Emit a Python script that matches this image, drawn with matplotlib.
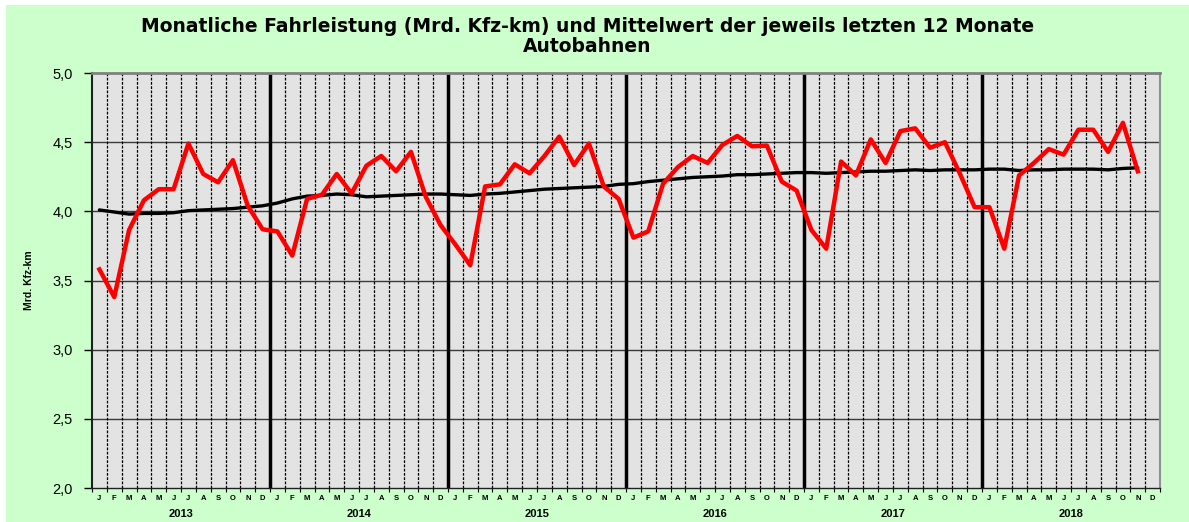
import numpy as np
import matplotlib
matplotlib.use("Agg")
import matplotlib.pyplot as plt
from matplotlib.patches import Rectangle
from matplotlib.transforms import blended_transform_factory

plt.rcParams['font.family'] = ['Liberation Sans', 'DejaVu Sans']

months = ["J", "F", "M", "A", "M", "J", "J", "A", "S", "O", "N", "D"]
years = ["2013", "2014", "2015", "2016", "2017", "2018"]

# Monatliche Fahrleistung (Mrd. Kfz-km), Jan 2013 .. Dez 2018
fahrleistung = [
    3.58, 3.38, 3.865, 4.08, 4.16, 4.16, 4.49, 4.27, 4.21, 4.37, 4.04, 3.87,
    3.855, 3.68, 4.09, 4.12, 4.27, 4.13, 4.33, 4.40, 4.29, 4.43, 4.105, 3.90,
    3.76, 3.61, 4.18, 4.195, 4.34, 4.275, 4.40, 4.54, 4.335, 4.49, 4.18, 4.09,
    3.81, 3.855, 4.20, 4.32, 4.40, 4.35, 4.48, 4.545, 4.47, 4.475, 4.215, 4.15,
    3.865, 3.73, 4.36, 4.26, 4.52, 4.35, 4.58, 4.60, 4.46, 4.50, 4.275, 4.03,
    4.03, 3.73, 4.26, 4.35, 4.45, 4.41, 4.59, 4.59, 4.43, 4.64, 4.29, np.nan,
]

# Mittelwert der jeweils letzten 12 Monate
mittelwert = [
    4.01, 3.995, 3.98, 3.985, 3.985, 3.99, 4.005, 4.01, 4.015, 4.02, 4.03, 4.04,
    4.06, 4.09, 4.11, 4.115, 4.125, 4.12, 4.105, 4.11, 4.115, 4.12, 4.125, 4.125,
    4.12, 4.115, 4.125, 4.13, 4.14, 4.15, 4.16, 4.165, 4.17, 4.175, 4.18, 4.195,
    4.20, 4.215, 4.225, 4.235, 4.245, 4.25, 4.255, 4.265, 4.265, 4.27, 4.275, 4.28,
    4.28, 4.275, 4.28, 4.285, 4.29, 4.29, 4.295, 4.30, 4.295, 4.30, 4.30, 4.30,
    4.305, 4.305, 4.295, 4.30, 4.30, 4.305, 4.305, 4.305, 4.30, 4.31, 4.315, np.nan,
]

W, H = 1189, 522
fig = plt.figure(figsize=(W / 100, H / 100), dpi=100)
fig.patch.set_facecolor("white")
fig.patches.append(Rectangle((6 / W, 0), 1 - 6 / W, 1 - 5 / H,
                             transform=fig.transFigure, facecolor="#ccffcc",
                             edgecolor="none", zorder=-10))

ax = fig.add_axes([92 / W, (H - 488) / H, (1160 - 92) / W, (488 - 73) / H])
ax.set_facecolor("#e3e3e3")

n = len(years) * 12
x = np.arange(n) + 0.5

# grid
for yv in [2.5, 3.0, 3.5, 4.0, 4.5]:
    ax.axhline(yv, color="#3a3a3a", lw=1.0, zorder=1)
for b in range(1, n):
    if b % 12 == 0:
        ax.axvline(b, color="black", lw=2.5, zorder=2)
    else:
        ax.axvline(b, color="black", lw=0.9, ls=(0, (2.2, 1.2)), zorder=1)

ax.plot(x, mittelwert, color="black", lw=2.4, zorder=3, solid_capstyle="round")
ax.plot(x, fahrleistung, color="#ff0000", lw=3.2, zorder=4)

ax.set_xlim(0, n)
ax.set_ylim(2.0, 5.0)

yt = np.arange(2.0, 5.01, 0.5)
ax.set_yticks(yt)
ax.set_yticklabels([f"{v:.1f}".replace(".", ",") for v in yt], fontsize=10.5)
ax.tick_params(axis="y", length=6, width=1, pad=8)

ax.set_xticks(x)
ax.set_xticklabels(months * len(years), fontsize=5.5, fontweight="bold")
ax.set_xticks(np.arange(0, n + 1), minor=True)
ax.tick_params(axis="x", which="major", length=0, pad=5)
ax.tick_params(axis="x", which="minor", length=3, width=0.8)

tr = blended_transform_factory(ax.transData, ax.transAxes)
for i, yr in enumerate(years):
    ax.text(i * 12 + 6, -0.062, yr, transform=tr, ha="center", va="center",
            fontsize=8, fontweight="bold")

ax.set_ylabel("Mrd. Kfz-km", fontsize=7.5, fontweight="bold", labelpad=13)

ax.spines["left"].set_color("#202020")
ax.spines["left"].set_linewidth(1.5)
ax.spines["bottom"].set_color("#202020")
ax.spines["bottom"].set_linewidth(1.0)
ax.spines["top"].set_color("#808080")
ax.spines["top"].set_linewidth(2)
ax.spines["right"].set_color("#909090")
ax.spines["right"].set_linewidth(1.5)

fig.text(0.494, 1 - 27 / H, "Monatliche Fahrleistung (Mrd. Kfz-km) und Mittelwert der jeweils letzten 12 Monate",
         ha="center", va="center", fontsize=13.5, fontweight="bold", family="DejaVu Sans")
fig.text(0.494, 1 - 46 / H, "Autobahnen", ha="center", va="center",
         fontsize=13.5, fontweight="bold", family="DejaVu Sans")

fig.savefig("out.png", dpi=100, facecolor=fig.get_facecolor())
